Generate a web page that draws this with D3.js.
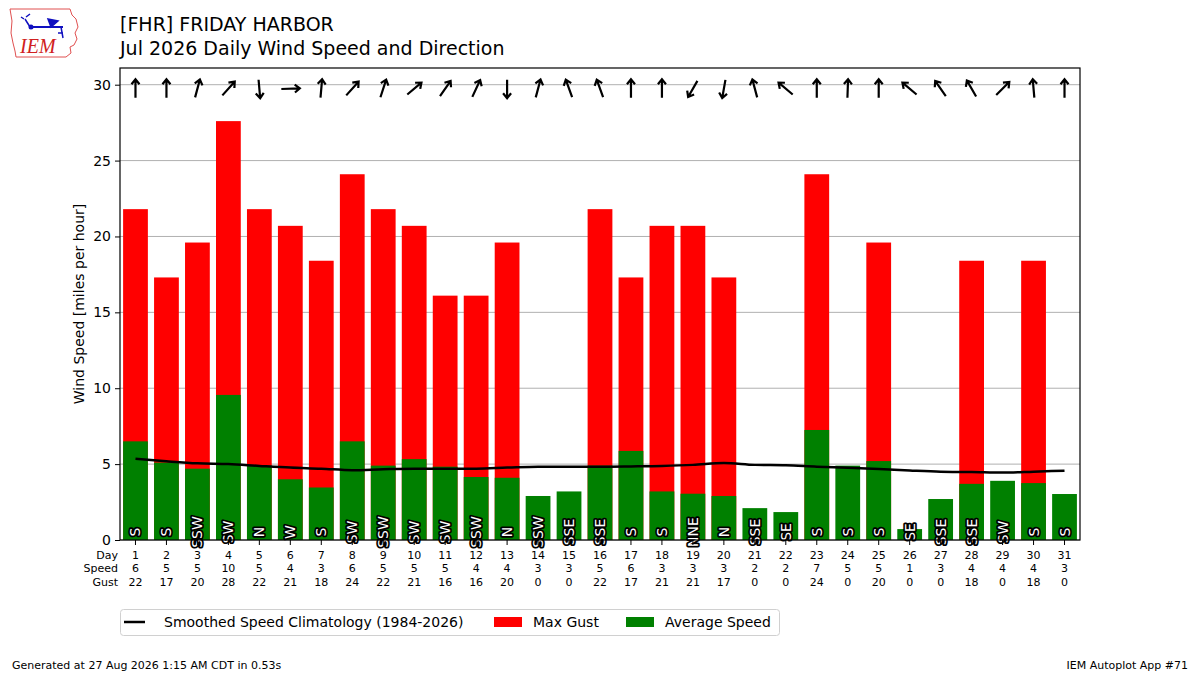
<!DOCTYPE html>
<html>
<head>
<meta charset="utf-8">
<script src="https://cdn.jsdelivr.net/npm/d3@7"></script>
<style>
  body { margin: 0; background: #fff; }
  svg { font-family: "DejaVu Sans", sans-serif; }
</style>
</head>
<body>
<div id="chart"></div>
<script>
// daily data, July 2026
var days = d3.range(1, 32);
var avgSpeed = [6.5, 5.1, 4.7, 9.56, 4.9, 4.0, 3.46, 6.5, 4.9, 5.33, 4.83, 4.15, 4.1, 2.9, 3.2,
                4.9, 5.87, 3.2, 3.05, 2.9, 2.1, 1.84, 7.25, 4.9, 5.2, 0.72, 2.7, 3.7, 3.9, 3.75, 3.03];
var maxGust = [21.8, 17.3, 19.6, 27.6, 21.8, 20.7, 18.4, 24.1, 21.8, 20.7, 16.1, 16.1, 19.6, 0, 0,
               21.8, 17.3, 20.7, 20.7, 17.3, 0, 0, 24.1, 0, 19.6, 0, 0, 18.4, 0, 18.4, 0];
var dirDeg = [180, 180, 195, 222, 355, 268, 185, 222, 198, 230, 215, 205, 0, 195, 160,
              160, 180, 180, 30, 10, 165, 130, 180, 182, 180, 130, 145, 150, 225, 175, 180];
var dirText = ["S", "S", "SSW", "SW", "N", "W", "S", "SW", "SSW", "SW", "SW", "SSW", "N", "SSW", "SSE",
               "SSE", "S", "S", "NNE", "N", "SSE", "SE", "S", "S", "S", "SE", "SSE", "SSE", "SW", "S", "S"];
var climo = [5.36, 5.19, 5.05, 5.0, 4.88, 4.77, 4.7, 4.6, 4.66, 4.7, 4.7, 4.7, 4.77, 4.83, 4.83,
             4.83, 4.85, 4.88, 4.95, 5.08, 4.95, 4.92, 4.83, 4.76, 4.68, 4.58, 4.5, 4.48, 4.44, 4.5, 4.57];
var speedLabels = [6, 5, 5, 10, 5, 4, 3, 6, 5, 5, 5, 4, 4, 3, 3, 5, 6, 3, 3, 3, 2, 2, 7, 5, 5, 1, 3, 4, 4, 4, 3];
var gustLabels = [22, 17, 20, 28, 22, 21, 18, 24, 22, 21, 16, 16, 20, 0, 0, 22, 17, 21, 21, 17, 0, 0, 24, 0, 20, 0, 0, 18, 0, 18, 0];
var yTicks = [0, 5, 10, 15, 20, 25, 30];

var W = 1200, H = 675;
var margin = {top: 68, right: 120, bottom: 135, left: 120};
var width = W - margin.left - margin.right;
var height = H - margin.top - margin.bottom;

var svg = d3.select("#chart").append("svg")
  .attr("width", W).attr("height", H);

var g = svg.append("g").attr("transform", "translate(" + margin.left + "," + margin.top + ")");

var x = d3.scaleBand().domain(days).range([0, width]).paddingInner(0.2).paddingOuter(0.1);
var y = d3.scaleLinear().domain([0, 31.1]).range([height, 0]);

// grid
g.append("g").selectAll("line").data(yTicks).enter().append("line")
  .attr("x1", 0).attr("x2", width)
  .attr("y1", function(d) { return y(d); }).attr("y2", function(d) { return y(d); })
  .attr("stroke", "#b0b0b0").attr("stroke-width", 1);

// gust bars
g.append("g").selectAll("rect").data(maxGust).enter().append("rect")
  .attr("x", function(d, i) { return x(days[i]); })
  .attr("width", x.bandwidth())
  .attr("y", function(d) { return y(d); })
  .attr("height", function(d) { return height - y(d); })
  .attr("fill", "#ff0000");

// average speed bars
g.append("g").selectAll("rect").data(avgSpeed).enter().append("rect")
  .attr("x", function(d, i) { return x(days[i]); })
  .attr("width", x.bandwidth())
  .attr("y", function(d) { return y(d); })
  .attr("height", function(d) { return height - y(d); })
  .attr("fill", "#008000");

// climatology line
var line = d3.line().curve(d3.curveMonotoneX)
  .x(function(d, i) { return x(days[i]) + x.bandwidth() / 2; })
  .y(function(d) { return y(d); });
g.append("path").datum(climo)
  .attr("fill", "none").attr("stroke", "#000").attr("stroke-width", 2.5)
  .attr("d", line);

// direction text in bars
g.append("g").selectAll("text").data(dirText).enter().append("text")
  .attr("transform", function(d, i) {
    return "translate(" + (x(days[i]) + x.bandwidth() / 2) + "," + (height - 8) + ") rotate(-90)";
  })
  .attr("text-anchor", "middle").attr("dominant-baseline", "central")
  .attr("font-size", 14).attr("fill", "#fff")
  .attr("stroke", "#000").attr("stroke-width", 3.5).attr("paint-order", "stroke")
  .attr("stroke-linejoin", "round")
  .text(function(d) { return d; });

// direction arrows near the top
var arrows = g.append("g").selectAll("g").data(dirDeg).enter().append("g")
  .attr("transform", function(d, i) {
    return "translate(" + (x(days[i]) + x.bandwidth() / 2) + "," + (y(30) + 4) + ") rotate(" + d + ")";
  });
// drawn pointing up (wind from the south), rotated by the direction + 180
arrows.append("path")
  .attr("d", "M0,9L0,-9M-4,-4.5L0,-9.5L4,-4.5")
  .attr("transform", "rotate(180)")
  .attr("fill", "none").attr("stroke", "#000").attr("stroke-width", 2.2)
  .attr("stroke-linecap", "butt").attr("stroke-linejoin", "miter");

// axes
var yAxis = g.append("g").call(d3.axisLeft(y).tickValues(yTicks).tickSize(5).tickPadding(4));
yAxis.select(".domain").remove();
yAxis.selectAll("text").attr("font-size", 14).attr("fill", "#000").attr("font-family", "DejaVu Sans");

var xAxis = g.append("g").attr("transform", "translate(0," + height + ")")
  .call(d3.axisBottom(x).tickSize(5).tickFormat(""));
xAxis.select(".domain").remove();

// frame
g.append("rect").attr("x", 0).attr("y", 0).attr("width", width).attr("height", height)
  .attr("fill", "none").attr("stroke", "#000").attr("stroke-width", 1.2);

// table under the axis
var rows = [["Day", days], ["Speed", speedLabels], ["Gust", gustLabels]];
rows.forEach(function(r, k) {
  var ty = height + 15 + k * 13.5;
  g.append("text").attr("x", -2).attr("y", ty)
    .attr("text-anchor", "end").attr("dominant-baseline", "central")
    .attr("font-size", 11).text(r[0]);
  g.append("g").selectAll("text").data(r[1]).enter().append("text")
    .attr("x", function(d, i) { return x(days[i]) + x.bandwidth() / 2; })
    .attr("y", ty)
    .attr("text-anchor", "middle").attr("dominant-baseline", "central")
    .attr("font-size", 11).text(function(d) { return d; });
});

// y label
svg.append("text")
  .attr("transform", "translate(84," + (margin.top + height / 2) + ") rotate(-90)")
  .attr("text-anchor", "middle").attr("font-size", 14)
  .text("Wind Speed [miles per hour]");

// titles
svg.append("text").attr("x", 120).attr("y", 31).attr("font-size", 19).text("[FHR] FRIDAY HARBOR");
svg.append("text").attr("x", 120).attr("y", 55).attr("font-size", 19).text("Jul 2026 Daily Wind Speed and Direction");

// legend
var lg = svg.append("g").attr("transform", "translate(120,609)");
lg.append("rect").attr("x", 0.5).attr("y", 0.5).attr("width", 659).attr("height", 26).attr("rx", 3)
  .attr("fill", "#fff").attr("stroke", "#d0d0d0");
lg.append("line").attr("x1", 4).attr("x2", 25).attr("y1", 13).attr("y2", 13)
  .attr("stroke", "#000").attr("stroke-width", 2.5);
lg.append("text").attr("x", 44).attr("y", 13).attr("dominant-baseline", "central")
  .attr("font-size", 14).text("Smoothed Speed Climatology (1984-2026)");
lg.append("rect").attr("x", 374).attr("y", 8).attr("width", 28).attr("height", 10).attr("fill", "#ff0000");
lg.append("text").attr("x", 413).attr("y", 13).attr("dominant-baseline", "central")
  .attr("font-size", 14).text("Max Gust");
lg.append("rect").attr("x", 506).attr("y", 8).attr("width", 28).attr("height", 10).attr("fill", "#008000");
lg.append("text").attr("x", 545).attr("y", 13).attr("dominant-baseline", "central")
  .attr("font-size", 14).text("Average Speed");

// footer
svg.append("text").attr("x", 12).attr("y", 669).attr("font-size", 11)
  .text("Generated at 27 Aug 2026 1:15 AM CDT in 0.53s");
svg.append("text").attr("x", 1188).attr("y", 669).attr("font-size", 11).attr("text-anchor", "end")
  .text("IEM Autoplot App #71");

// rough IEM logo
var logo = svg.append("g").attr("transform", "translate(8,7)");
logo.append("path")
  .attr("d", "M2,2 L62,2 L64,8 L68,12 L70,20 L67,26 L69,32 L66,38 L62,40 L63,46 L58,50 L8,50 L7,44 L5,36 L3,26 L4,14 Z")
  .attr("fill", "#fff").attr("stroke", "#e05050").attr("stroke-width", 1);
logo.append("line").attr("x1", 22).attr("x2", 55).attr("y1", 20).attr("y2", 20)
  .attr("stroke", "#1010c0").attr("stroke-width", 2);
logo.append("circle").attr("cx", 23).attr("cy", 20).attr("r", 2.5).attr("fill", "#1010c0");
logo.append("path").attr("d", "M22,20 L17,12 M18,10 L22,7 M16,12 L13,10 M43,20 L40,12 L50,14 Z M53,20 L55,31 M50,26 L55,26")
  .attr("stroke", "#1010c0").attr("stroke-width", 1.5).attr("fill", "#1010c0");
logo.append("text").attr("x", 12).attr("y", 46).attr("font-family", "Liberation Serif")
  .attr("font-style", "italic").attr("font-size", 20).attr("fill", "#d02020").text("IEM");
</script>
</body>
</html>
